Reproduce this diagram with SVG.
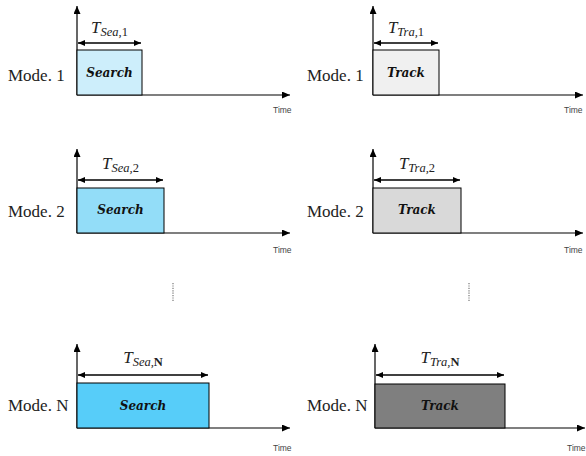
<svg xmlns="http://www.w3.org/2000/svg" width="586" height="456" viewBox="0 0 586 456">
<defs>
<marker id="ah" markerUnits="userSpaceOnUse" markerWidth="9" markerHeight="8" refX="8" refY="3.5" orient="auto-start-reverse"><path d="M0,0 L8,3.5 L0,7 z" fill="#000"/></marker>
<marker id="dh" markerUnits="userSpaceOnUse" markerWidth="8" markerHeight="8" refX="7" refY="3" orient="auto-start-reverse"><path d="M0,0 L7,3 L0,6 z" fill="#000"/></marker>
<style>
.ax{stroke:#000;stroke-width:1.2;fill:none}
.dim{stroke:#000;stroke-width:1.3;fill:none}
.box{stroke:#000;stroke-width:1}
.mode{font-family:"Liberation Serif",serif;font-size:17px;fill:#222}
.lab{font-family:"DejaVu Serif",serif;font-weight:bold;font-style:italic;font-size:12px;fill:#111;text-anchor:middle}
.t{font-family:"Liberation Serif",serif;font-style:italic;font-size:17px;fill:#222;text-anchor:middle}
.sub{font-size:12.5px}
.time{font-family:"Liberation Sans",sans-serif;font-size:8.5px;fill:#444}
.dots{stroke:#777;stroke-width:1.2;stroke-dasharray:1.2 1.2}
</style>
</defs>
<g id="connectors">
<path class="ax" d="M77,95 V6" marker-end="url(#ah)"/>
<path class="ax" d="M77,95 H290" marker-end="url(#ah)"/>
<path class="dim" d="M78,43 H141" marker-start="url(#dh)" marker-end="url(#dh)"/>
<path class="ax" d="M373,95 V6" marker-end="url(#ah)"/>
<path class="ax" d="M373,95 H583" marker-end="url(#ah)"/>
<path class="dim" d="M374,43 H438" marker-start="url(#dh)" marker-end="url(#dh)"/>
<path class="ax" d="M77,233 V149" marker-end="url(#ah)"/>
<path class="ax" d="M77,233 H290" marker-end="url(#ah)"/>
<path class="dim" d="M78,180 H163" marker-start="url(#dh)" marker-end="url(#dh)"/>
<path class="ax" d="M373,233 V149" marker-end="url(#ah)"/>
<path class="ax" d="M373,233 H583" marker-end="url(#ah)"/>
<path class="dim" d="M374,180 H460" marker-start="url(#dh)" marker-end="url(#dh)"/>
<path class="ax" d="M77,428 V344" marker-end="url(#ah)"/>
<path class="ax" d="M77,428 H290" marker-end="url(#ah)"/>
<path class="dim" d="M78,375 H208" marker-start="url(#dh)" marker-end="url(#dh)"/>
<path class="ax" d="M375,428 V344" marker-end="url(#ah)"/>
<path class="ax" d="M375,428 H585" marker-end="url(#ah)"/>
<path class="dim" d="M376,375 H504" marker-start="url(#dh)" marker-end="url(#dh)"/>
<line class="dots" x1="173" y1="283" x2="173" y2="302"/>
<line class="dots" x1="469" y1="283" x2="469" y2="302"/>
</g>
<g id="search1">
<rect class="box" x="77" y="50" width="65" height="45" fill="#cdeefb"/>
<text class="lab" x="109.5" y="77">Search</text>
<text class="mode" x="8" y="81">Mode. 1</text>
<text class="t" x="109.5" y="33">T<tspan class="sub" dy="3">Sea,</tspan><tspan class="sub" font-style="normal">1</tspan></text>
<text class="time" x="273" y="113">Time</text>
</g>
<g id="track1">
<rect class="box" x="373" y="50" width="66" height="45" fill="#f0f0f0"/>
<text class="lab" x="406" y="77">Track</text>
<text class="mode" x="307" y="81">Mode. 1</text>
<text class="t" x="406" y="33">T<tspan class="sub" dy="3">Tra,</tspan><tspan class="sub" font-style="normal">1</tspan></text>
<text class="time" x="564" y="113">Time</text>
</g>
<g id="search2">
<rect class="box" x="77" y="188" width="87" height="45" fill="#93ddf8"/>
<text class="lab" x="120.5" y="214">Search</text>
<text class="mode" x="8" y="217">Mode. 2</text>
<text class="t" x="120.5" y="169">T<tspan class="sub" dy="3">Sea,</tspan><tspan class="sub" font-style="normal">2</tspan></text>
<text class="time" x="273" y="253">Time</text>
</g>
<g id="track2">
<rect class="box" x="373" y="188" width="88" height="45" fill="#d9d9d9"/>
<text class="lab" x="417" y="214">Track</text>
<text class="mode" x="307" y="217">Mode. 2</text>
<text class="t" x="417" y="169">T<tspan class="sub" dy="3">Tra,</tspan><tspan class="sub" font-style="normal">2</tspan></text>
<text class="time" x="564" y="253">Time</text>
</g>
<g id="searchN">
<rect class="box" x="77" y="383" width="132" height="45" fill="#57cdf9"/>
<text class="lab" x="143" y="410">Search</text>
<text class="mode" x="8" y="411">Mode. N</text>
<text class="t" x="143" y="363">T<tspan class="sub" dy="3">Sea,</tspan><tspan class="sub" font-style="normal" font-weight="bold">N</tspan></text>
<text class="time" x="273" y="451">Time</text>
</g>
<g id="trackN">
<rect class="box" x="375" y="384" width="130" height="44" fill="#7f7f7f"/>
<text class="lab" x="440" y="410">Track</text>
<text class="mode" x="307" y="411">Mode. N</text>
<text class="t" x="440" y="363">T<tspan class="sub" dy="3">Tra,</tspan><tspan class="sub" font-style="normal" font-weight="bold">N</tspan></text>
<text class="time" x="567" y="451">Time</text>
</g>
</svg>
